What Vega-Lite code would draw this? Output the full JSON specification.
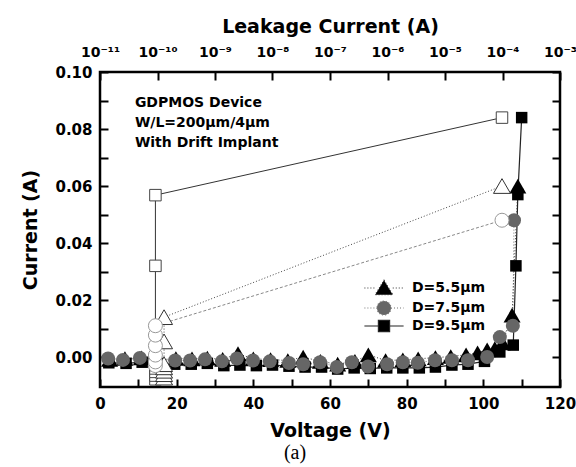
{
  "$schema": "https://vega.github.io/schema/vega-lite/v6.json",
  "width": 460,
  "height": 315,
  "autosize": "none",
  "padding": {"left": 100, "top": 72, "right": 16, "bottom": 80},
  "background": "white",
  "config": {
    "view": {"stroke": "#000", "strokeWidth": 2.5},
    "font": "DejaVu Sans",
    "axis": {
      "domain": false, "offset": -8, "ticks": true, "tickSize": 8, "tickColor": "#000", "tickWidth": 2, "tickOpacity": 1, "grid": false, "zindex": 1,
      "labelFont": "DejaVu Sans", "labelFontWeight": "bold", "labelFontSize": 15, "labelColor": "#000",
      "titleFont": "DejaVu Sans", "titleFontWeight": "bold", "titleFontSize": 19, "titleColor": "#000",
      "labelFlush": false, "labelOverlap": false
    }
  },
  "title": {"text": "(a)", "orient": "bottom", "font": "Liberation Serif", "fontSize": 20, "fontWeight": "normal", "color": "#000", "offset": 3, "dx": -35},
  "datasets": {
    "vsweep": [
      {"series": "D=9.5µm", "V": 2.3, "I": -0.002},
      {"series": "D=9.5µm", "V": 6.8, "I": -0.0022},
      {"series": "D=9.5µm", "V": 11, "I": -0.0018},
      {"series": "D=9.5µm", "V": 15.2, "I": -0.0025},
      {"series": "D=9.5µm", "V": 19.5, "I": -0.0025},
      {"series": "D=9.5µm", "V": 23.8, "I": -0.0025},
      {"series": "D=9.5µm", "V": 28, "I": -0.0022},
      {"series": "D=9.5µm", "V": 32.3, "I": -0.003},
      {"series": "D=9.5µm", "V": 36.5, "I": -0.0028},
      {"series": "D=9.5µm", "V": 40.8, "I": -0.003},
      {"series": "D=9.5µm", "V": 45, "I": -0.0028},
      {"series": "D=9.5µm", "V": 49.3, "I": -0.0032},
      {"series": "D=9.5µm", "V": 53.5, "I": -0.0035},
      {"series": "D=9.5µm", "V": 57.8, "I": -0.0035},
      {"series": "D=9.5µm", "V": 62, "I": -0.0042},
      {"series": "D=9.5µm", "V": 66.3, "I": -0.0038},
      {"series": "D=9.5µm", "V": 70.5, "I": -0.004},
      {"series": "D=9.5µm", "V": 74.8, "I": -0.0038},
      {"series": "D=9.5µm", "V": 79, "I": -0.0038},
      {"series": "D=9.5µm", "V": 83.3, "I": -0.0038},
      {"series": "D=9.5µm", "V": 87.5, "I": -0.0035},
      {"series": "D=9.5µm", "V": 91.8, "I": -0.0028},
      {"series": "D=9.5µm", "V": 96, "I": -0.0025},
      {"series": "D=9.5µm", "V": 100.3, "I": -0.0015},
      {"series": "D=9.5µm", "V": 104.3, "I": 0.0018},
      {"series": "D=9.5µm", "V": 107.8, "I": 0.0042},
      {"series": "D=9.5µm", "V": 108.5, "I": 0.032},
      {"series": "D=9.5µm", "V": 109, "I": 0.057},
      {"series": "D=9.5µm", "V": 110, "I": 0.084},
      {"series": "D=5.5µm", "V": 2.5, "I": -0.0008},
      {"series": "D=5.5µm", "V": 6.5, "I": -0.0005},
      {"series": "D=5.5µm", "V": 10.8, "I": -0.0003},
      {"series": "D=5.5µm", "V": 15.5, "I": -0.001},
      {"series": "D=5.5µm", "V": 19.8, "I": -0.0005},
      {"series": "D=5.5µm", "V": 24, "I": -0.0006},
      {"series": "D=5.5µm", "V": 28, "I": -0.0004},
      {"series": "D=5.5µm", "V": 32, "I": -0.0008},
      {"series": "D=5.5µm", "V": 36, "I": 0.0012},
      {"series": "D=5.5µm", "V": 40, "I": -0.0006},
      {"series": "D=5.5µm", "V": 44.5, "I": -0.0009},
      {"series": "D=5.5µm", "V": 49, "I": -0.0012},
      {"series": "D=5.5µm", "V": 53, "I": 0.0},
      {"series": "D=5.5µm", "V": 57.5, "I": -0.0015},
      {"series": "D=5.5µm", "V": 62, "I": -0.0025},
      {"series": "D=5.5µm", "V": 66.5, "I": -0.0015},
      {"series": "D=5.5µm", "V": 70, "I": 0.0008},
      {"series": "D=5.5µm", "V": 74.5, "I": -0.0012},
      {"series": "D=5.5µm", "V": 79, "I": -0.001},
      {"series": "D=5.5µm", "V": 83, "I": -0.0006},
      {"series": "D=5.5µm", "V": 87.5, "I": -0.0002},
      {"series": "D=5.5µm", "V": 91.5, "I": 0.0002},
      {"series": "D=5.5µm", "V": 95.5, "I": 0.0008},
      {"series": "D=5.5µm", "V": 98.5, "I": 0.0015},
      {"series": "D=5.5µm", "V": 101, "I": 0.0025},
      {"series": "D=5.5µm", "V": 103, "I": 0.003},
      {"series": "D=5.5µm", "V": 105, "I": 0.005},
      {"series": "D=5.5µm", "V": 107.5, "I": 0.0147},
      {"series": "D=5.5µm", "V": 109, "I": 0.06},
      {"series": "D=7.5µm", "V": 2.1, "I": -0.0005},
      {"series": "D=7.5µm", "V": 6, "I": -0.001},
      {"series": "D=7.5µm", "V": 10.4, "I": -0.0003},
      {"series": "D=7.5µm", "V": 14.3, "I": -0.0008},
      {"series": "D=7.5µm", "V": 19.6, "I": -0.0012},
      {"series": "D=7.5µm", "V": 23.5, "I": -0.0012},
      {"series": "D=7.5µm", "V": 27.4, "I": -0.0008},
      {"series": "D=7.5µm", "V": 31.8, "I": -0.0015},
      {"series": "D=7.5µm", "V": 35.7, "I": -0.0005},
      {"series": "D=7.5µm", "V": 39.9, "I": -0.0012},
      {"series": "D=7.5µm", "V": 44.3, "I": -0.0015},
      {"series": "D=7.5µm", "V": 49.3, "I": -0.0021},
      {"series": "D=7.5µm", "V": 53, "I": -0.0025},
      {"series": "D=7.5µm", "V": 57.4, "I": -0.0018},
      {"series": "D=7.5µm", "V": 61.8, "I": -0.0035},
      {"series": "D=7.5µm", "V": 65.7, "I": -0.0018},
      {"series": "D=7.5µm", "V": 69.9, "I": -0.0033},
      {"series": "D=7.5µm", "V": 74.9, "I": -0.0025},
      {"series": "D=7.5µm", "V": 79, "I": -0.0018},
      {"series": "D=7.5µm", "V": 82.9, "I": -0.002},
      {"series": "D=7.5µm", "V": 87.4, "I": -0.0011},
      {"series": "D=7.5µm", "V": 91.8, "I": -0.0011},
      {"series": "D=7.5µm", "V": 96, "I": -0.0011},
      {"series": "D=7.5µm", "V": 101, "I": 0.0},
      {"series": "D=7.5µm", "V": 104.3, "I": 0.007},
      {"series": "D=7.5µm", "V": 107.7, "I": 0.011},
      {"series": "D=7.5µm", "V": 108, "I": 0.048}
    ],
    "leak": [
      {"series": "D=9.5µm", "L": 9.2e-11, "I": -0.0078},
      {"series": "D=9.5µm", "L": 9.2e-11, "I": -0.0065},
      {"series": "D=9.5µm", "L": 9.2e-11, "I": -0.0052},
      {"series": "D=9.5µm", "L": 9.2e-11, "I": -0.004},
      {"series": "D=9.5µm", "L": 9.2e-11, "I": -0.0028},
      {"series": "D=9.5µm", "L": 9.2e-11, "I": 0.032},
      {"series": "D=9.5µm", "L": 9.2e-11, "I": 0.0568},
      {"series": "D=9.5µm", "L": 9.8e-5, "I": 0.084},
      {"series": "D=5.5µm", "L": 1.3e-10, "I": -0.0072},
      {"series": "D=5.5µm", "L": 1.3e-10, "I": -0.006},
      {"series": "D=5.5µm", "L": 1.3e-10, "I": -0.0048},
      {"series": "D=5.5µm", "L": 1.3e-10, "I": -0.0036},
      {"series": "D=5.5µm", "L": 1.3e-10, "I": -0.0025},
      {"series": "D=5.5µm", "L": 1.3e-10, "I": 0.0055},
      {"series": "D=5.5µm", "L": 1.3e-10, "I": 0.014},
      {"series": "D=5.5µm", "L": 9.8e-5, "I": 0.06},
      {"series": "D=7.5µm", "L": 9.2e-11, "I": -0.003},
      {"series": "D=7.5µm", "L": 9.2e-11, "I": -0.0017},
      {"series": "D=7.5µm", "L": 9.2e-11, "I": 0.0007},
      {"series": "D=7.5µm", "L": 9.2e-11, "I": 0.004},
      {"series": "D=7.5µm", "L": 9.2e-11, "I": 0.0077},
      {"series": "D=7.5µm", "L": 9.2e-11, "I": 0.011},
      {"series": "D=7.5µm", "L": 9.8e-5, "I": 0.048}
    ]
  },
  "layer": [
    {
      "data": {"name": "vsweep"},
      "encoding": {
        "x": {
          "field": "V", "type": "quantitative",
          "scale": {"domain": [0, 120], "nice": false, "zero": false},
          "axis": {
            "orient": "bottom", "title": "Voltage (V)",
            "values": [0, 10, 20, 30, 40, 50, 60, 70, 80, 90, 100, 110, 120],
            "labelExpr": "datum.value % 20 == 0 ? datum.label : ''",
            "labelPadding": 9, "titlePadding": 10,
            "encode": {"ticks": {"update": {"stroke": {"value": "#000"}, "strokeWidth": {"value": 2}, "opacity": {"value": 1}}}}
          }
        },
        "y": {
          "field": "I", "type": "quantitative",
          "scale": {"domain": [-0.0105, 0.1], "nice": false, "zero": false},
          "axis": {
            "orient": "left", "title": "Current (A)",
            "values": [0, 0.01, 0.02, 0.03, 0.04, 0.05, 0.06, 0.07, 0.08, 0.09, 0.1],
            "labelExpr": "round(datum.value * 100) % 2 == 0 ? format(datum.value, '.2f') : ''",
            "labelPadding": 8, "titlePadding": 14,
            "encode": {"ticks": {"update": {"stroke": {"value": "#000"}, "strokeWidth": {"value": 2}, "opacity": {"value": 1}}}}
          }
        }
      },
      "layer": [
        {
          "transform": [{"filter": "datum.series == 'D=9.5µm'"}],
          "mark": {"type": "line", "color": "#222", "strokeWidth": 1.2},
          "encoding": {"order": {"field": "V", "type": "quantitative"}}
        },
        {
          "transform": [{"filter": "datum.series == 'D=5.5µm'"}],
          "mark": {"type": "line", "color": "#333", "strokeWidth": 1, "strokeDash": [1, 2]},
          "encoding": {"order": {"field": "V", "type": "quantitative"}}
        },
        {
          "transform": [{"filter": "datum.series == 'D=7.5µm'"}],
          "mark": {"type": "line", "color": "#777", "strokeWidth": 1, "strokeDash": [1, 2]},
          "encoding": {"order": {"field": "V", "type": "quantitative"}}
        },
        {
          "transform": [{"filter": "datum.series == 'D=9.5µm'"}],
          "mark": {"type": "point", "shape": "square", "size": 132, "filled": true, "color": "#000", "opacity": 1, "strokeWidth": 0}
        },
        {
          "transform": [{"filter": "datum.series == 'D=5.5µm'"}],
          "mark": {"type": "point", "shape": "triangle-up", "size": 289, "filled": true, "color": "#000", "opacity": 1, "strokeWidth": 0}
        },
        {
          "transform": [{"filter": "datum.series == 'D=7.5µm'"}],
          "mark": {"type": "point", "shape": "circle", "size": 196, "filled": true, "color": "#666", "opacity": 1, "strokeWidth": 0}
        },
        {
          "transform": [{"filter": "false"}],
          "mark": {"type": "point", "filled": true, "opacity": 1, "strokeWidth": 1.2},
          "encoding": {
            "color": {
              "field": "series", "type": "nominal",
              "scale": {"domain": ["D=5.5µm", "D=7.5µm", "D=9.5µm"], "range": ["#000000", "#666666", "#000000"]},
              "legend": {
                "orient": "none", "legendX": 276, "legendY": 208, "title": null, "padding": 0,
                "labelFont": "DejaVu Sans", "labelFontWeight": "bold", "labelFontSize": 14, "labelColor": "#000",
                "symbolSize": 196, "labelOffset": 20, "rowPadding": 0, "symbolStrokeWidth": 1.2, "symbolOpacity": 1
              }
            },
            "stroke": {
              "field": "series", "type": "nominal",
              "scale": {"domain": ["D=5.5µm", "D=7.5µm", "D=9.5µm"], "range": ["#333333", "#777777", "#222222"]}
            },
            "shape": {
              "field": "series", "type": "nominal",
              "scale": {"domain": ["D=5.5µm", "D=7.5µm", "D=9.5µm"], "range": [
                "M-2.8,0H-1.25M1.25,0H2.8M0,-1.1L1.25,0.95H-1.25Z",
                "M-2.8,0H-1M1,0H2.8M-1,0A1,1,0,1,0,1,0A1,1,0,1,0,-1,0Z",
                "M-2.8,0H-0.8M0.8,0H2.8M-0.8,-0.8H0.8V0.8H-0.8Z"
              ]}
            },
            "strokeDash": {
              "field": "series", "type": "nominal",
              "scale": {"domain": ["D=5.5µm", "D=7.5µm", "D=9.5µm"], "range": [[1, 2], [1, 2], [1, 0]]}
            }
          }
        },
        {
          "data": {"values": [{"label": ["GDPMOS Device", "W/L=200µm/4µm", "With Drift Implant"], "V": 9.1, "I": 0.0916}]},
          "mark": {"type": "text", "align": "left", "baseline": "top", "font": "DejaVu Sans", "fontWeight": "bold", "fontSize": 14, "lineHeight": 20, "color": "#000"},
          "encoding": {"text": {"field": "label"}}
        }
      ]
    },
    {
      "data": {"name": "leak"},
      "encoding": {
        "x": {
          "field": "L", "type": "quantitative",
          "scale": {"type": "log", "domain": [1e-11, 0.001], "nice": false},
          "axis": {
            "orient": "top", "title": "Leakage Current (A)",
            "values": [1e-11, 1e-10, 1e-9, 1e-8, 1e-7, 1e-6, 1e-5, 1e-4, 1e-3],
            "labelExpr": "'10' + ['⁻¹¹', '⁻¹⁰', '⁻⁹', '⁻⁸', '⁻⁷', '⁻⁶', '⁻⁵', '⁻⁴', '⁻³'][round(log(datum.value) / LN10) + 11]",
            "labelFontSize": 14,
            "labelPadding": 13, "titlePadding": 9,
            "encode": {"ticks": {"update": {"stroke": {"value": "#000"}, "strokeWidth": {"value": 2}, "opacity": {"value": 1}}}}
          }
        },
        "y": {
          "field": "I", "type": "quantitative",
          "scale": {"domain": [-0.0105, 0.1], "nice": false, "zero": false},
          "axis": {
            "orient": "right", "title": null, "labels": false,
            "values": [0, 0.01, 0.02, 0.03, 0.04, 0.05, 0.06, 0.07, 0.08, 0.09, 0.1],
            "encode": {"ticks": {"update": {"stroke": {"value": "#000"}, "strokeWidth": {"value": 2}, "opacity": {"value": 1}}}}
          }
        }
      },
      "layer": [
        {
          "transform": [{"filter": "datum.series == 'D=9.5µm'"}],
          "mark": {"type": "line", "color": "#333", "strokeWidth": 1},
          "encoding": {"order": {"field": "I", "type": "quantitative"}}
        },
        {
          "transform": [{"filter": "datum.series == 'D=5.5µm'"}],
          "mark": {"type": "line", "color": "#444", "strokeWidth": 1, "strokeDash": [1, 2]},
          "encoding": {"order": {"field": "I", "type": "quantitative"}}
        },
        {
          "transform": [{"filter": "datum.series == 'D=7.5µm'"}],
          "mark": {"type": "line", "color": "#888", "strokeWidth": 1, "strokeDash": [3, 2]},
          "encoding": {"order": {"field": "I", "type": "quantitative"}}
        },
        {
          "transform": [{"filter": "datum.series == 'D=9.5µm'"}],
          "mark": {"type": "point", "shape": "square", "size": 132, "fill": "white", "stroke": "#444", "filled": false, "fillOpacity": 1, "strokeOpacity": 1, "strokeWidth": 1}
        },
        {
          "transform": [{"filter": "datum.series == 'D=5.5µm'"}],
          "mark": {"type": "point", "shape": "triangle-up", "size": 289, "fill": "white", "stroke": "#333", "filled": false, "fillOpacity": 1, "strokeOpacity": 1, "strokeWidth": 1}
        },
        {
          "transform": [{"filter": "datum.series == 'D=7.5µm'"}],
          "mark": {"type": "point", "shape": "circle", "size": 196, "fill": "white", "stroke": "#999", "filled": false, "fillOpacity": 1, "strokeOpacity": 1, "strokeWidth": 1}
        }
      ]
    }
  ],
  "resolve": {"scale": {"x": "independent", "y": "independent"}}
}
